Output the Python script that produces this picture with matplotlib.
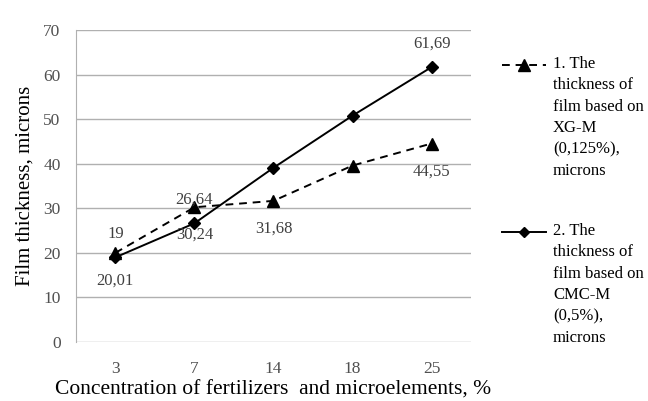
import numpy as np
import matplotlib.pyplot as plt
from matplotlib.lines import Line2D

plt.rcParams['font.family'] = ['Liberation Serif', 'DejaVu Serif']

# fertilizer concentration categories, %
conc = ['3', '7', '14', '18', '25']
# film thickness, microns
xg_m = [20.01, 30.24, 31.68, 39.6, 44.55]
cmc_m = [19, 26.64, 39.1, 50.8, 61.69]
# which points carry a value label
xg_labels = ['20,01', '30,24', '31,68', None, '44,55']
cmc_labels = ['19', '26,64', None, None, '61,69']

xg_name = '1. The\nthickness of\nfilm based on\nXG-M\n(0,125%),\nmicrons'
cmc_name = '2. The\nthickness of\nfilm based on\nCMC-M\n(0,5%),\nmicrons'

W, H = 648, 401
fig = plt.figure(figsize=(W / 100, H / 100), dpi=100)
ax = fig.add_axes([0.117, 0.147, 0.61, 0.778])

x = np.arange(len(conc))
dash = (0, (4, 3))
ax.plot(x, xg_m, color='black', lw=1.4, ls=dash, marker='^', ms=9)
ax.plot(x, cmc_m, color='black', lw=1.4, marker='D', ms=6.5)

for xi, v, t in zip(x, xg_m, xg_labels):
    if t:
        ax.annotate(t, (xi, v), xytext=(0, -20), textcoords='offset points',
                    ha='center', va='center', fontsize=12, color='#404040')
for xi, v, t in zip(x, cmc_m, cmc_labels):
    if t:
        ax.annotate(t, (xi, v), xytext=(0, 17), textcoords='offset points',
                    ha='center', va='center', fontsize=12, color='#404040')

ax.set_xlim(-0.5, 4.5)
ax.set_ylim(0, 70)
ax.set_yticks(range(0, 71, 10))
ax.set_xticks(x)
ax.set_xticklabels(conc)
ax.yaxis.grid(True, color='#b0b0b0', lw=1)
ax.set_axisbelow(True)
for s in ['top', 'right', 'bottom']:
    ax.spines[s].set_visible(False)
ax.spines['left'].set_color('#b0b0b0')
ax.tick_params(length=0, labelsize=12.5, colors='#505050')
ax.tick_params(axis='y', pad=11)
ax.tick_params(axis='x', pad=14)

ax.set_xlabel('Concentration of fertilizers  and microelements, %',
              fontsize=15.5, labelpad=2)
ax.set_ylabel('Film thickness, microns', fontsize=15, labelpad=6)

# legend drawn by hand so the key sits on the first text line
entries = [(xg_name, dash, '^', 8, 65),
           (cmc_name, '-', 'D', 5, 232)]
for name, ls, mk, ms, ypx in entries:
    yf = 1 - ypx / H
    fig.add_artist(Line2D([502 / W, 546 / W], [yf, yf], color='black',
                          lw=1.4, ls=ls, transform=fig.transFigure))
    fig.add_artist(Line2D([524 / W], [yf], color='black', lw=0,
                          marker=mk, ms=ms, transform=fig.transFigure))
    fig.text(553 / W, 1 - (ypx - 9) / H, name, ha='left', va='top',
             fontsize=12, linespacing=1.45)

fig.savefig('out.png', dpi=100)
